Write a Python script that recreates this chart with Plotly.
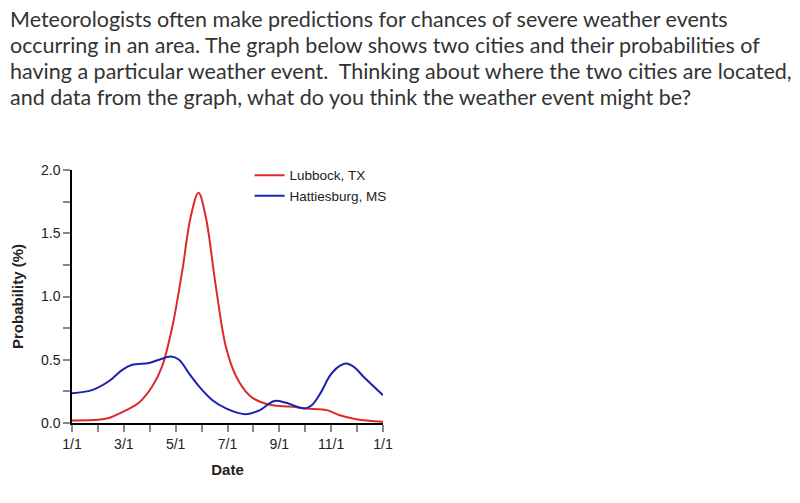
import plotly.graph_objects as go

# Data (x in months since Jan 1, y in probability %)
red_x = [0, 1.0, 1.42, 2.07, 2.58, 3.1, 3.48, 3.87, 4.26, 4.58, 4.88, 5.16, 5.55, 5.94, 6.33, 6.84, 7.23, 7.74, 8.39, 9.03, 9.87, 10.3, 10.97, 12]
red_y = [0.02, 0.025, 0.04, 0.10, 0.16, 0.29, 0.45, 0.76, 1.21, 1.63, 1.82, 1.63, 1.08, 0.60, 0.37, 0.22, 0.17, 0.14, 0.13, 0.115, 0.10, 0.063, 0.03, 0.01]

blue_x = [0, 0.77, 1.42, 1.94, 2.32, 2.97, 3.36, 3.81, 4.13, 4.52, 4.9, 5.42, 5.94, 6.4, 6.71, 7.23, 7.81, 8.26, 8.97, 9.25, 9.6, 9.94, 10.25, 10.58, 10.9, 11.23, 12]
blue_y = [0.235, 0.26, 0.33, 0.42, 0.46, 0.475, 0.50, 0.525, 0.50, 0.39, 0.29, 0.18, 0.115, 0.08, 0.07, 0.10, 0.174, 0.16, 0.115, 0.14, 0.24, 0.37, 0.44, 0.47, 0.44, 0.37, 0.22]

x_tickvals = list(range(13))
x_ticktext = ["1/1", "", "3/1", "", "5/1", "", "7/1", "", "9/1", "", "11/1", "", "1/1"]
y_tickvals = [0, 0.25, 0.5, 0.75, 1.0, 1.25, 1.5, 1.75, 2.0]
y_ticktext = ["0.0", "", "0.5", "", "1.0", "", "1.5", "", "2.0"]

series_names = ["Lubbock, TX", "Hattiesburg, MS"]

question_lines = [
    "Meteorologists often make predictions for chances of severe weather events",
    "occurring in an area. The graph below shows two cities and their probabilities of",
    "having a particular weather event.  Thinking about where the two cities are located,",
    "and data from the graph, what do you think the weather event might be?",
]

fig = go.Figure()
fig.add_trace(go.Scatter(x=red_x, y=red_y, mode="lines", name=series_names[0],
                         line=dict(color="#dc2a2a", width=2, shape="spline", smoothing=1.0)))
fig.add_trace(go.Scatter(x=blue_x, y=blue_y, mode="lines", name=series_names[1],
                         line=dict(color="#1c22b0", width=2, shape="spline", smoothing=1.0)))

FONT = "Liberation Sans, Arial, sans-serif"
PLOT_L, PLOT_R, PLOT_T, PLOT_B = 72, 383, 170, 423
pw, ph = PLOT_R - PLOT_L, PLOT_B - PLOT_T

annotations = []
for i, line in enumerate(question_lines):
    annotations.append(dict(text=line, xref="paper", yref="paper",
                            x=(8 - PLOT_L) / pw, y=(PLOT_B - (19 + 26 * i)) / ph,
                            xanchor="left", yanchor="middle", align="left", showarrow=False,
                            font=dict(family="Lato, sans-serif", size=21.5, color="#333")))

fig.update_layout(
    width=800, height=503,
    margin=dict(l=PLOT_L, r=800 - PLOT_R, t=PLOT_T, b=503 - PLOT_B),
    paper_bgcolor="white", plot_bgcolor="white",
    font=dict(family=FONT, size=14, color="#222"),
    showlegend=True,
    legend=dict(x=0.571, y=1.04, xanchor="left", yanchor="top",
                font=dict(family=FONT, size=13.5, color="#222"),
                itemwidth=30, tracegroupgap=0, bgcolor="rgba(0,0,0,0)"),
    xaxis=dict(range=[0, 12], tickmode="array", tickvals=x_tickvals, ticktext=x_ticktext,
               showgrid=False, zeroline=False, showline=True, linecolor="black", linewidth=1.5,
               ticks="outside", ticklen=7, tickcolor="#888", tickwidth=1.5, automargin=False,
               tickfont=dict(size=14),
               title=dict(text="<b>Date</b>", font=dict(size=15, color="#222"), standoff=14)),
    yaxis=dict(range=[0, 2.0], tickmode="array", tickvals=y_tickvals, ticktext=y_ticktext,
               showgrid=False, zeroline=False, showline=True, linecolor="black", linewidth=1.5,
               ticks="outside", ticklen=7, tickcolor="#888", tickwidth=1.5, automargin=False,
               tickfont=dict(size=14),
               title=dict(text="<b>Probability (%)</b>", font=dict(size=15, color="#222"), standoff=14)),
    annotations=annotations,
)

fig.write_html("out.html", config={"displayModeBar": False},
               post_script="document.body.style.margin='0';")
